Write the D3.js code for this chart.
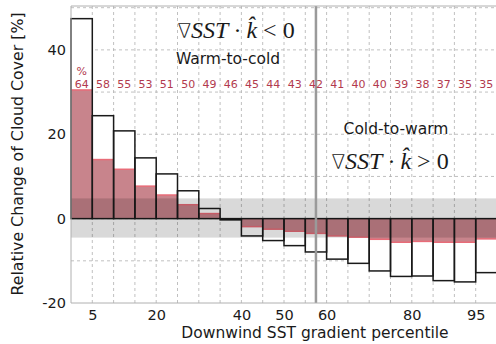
<!DOCTYPE html>
<html>
<head>
<meta charset="utf-8">
<script src="https://cdn.jsdelivr.net/npm/d3@7"></script>
<style>
  body { margin: 0; background: #fff; }
  svg { display: block; font-family: "DejaVu Sans", sans-serif; }
</style>
</head>
<body>
<div id="chart"></div>
<script>
// percentile bins (lower edge, width 5)
const binStart = [0, 5, 10, 15, 20, 25, 30, 35, 40, 45, 50, 55, 60, 65, 70, 75, 80, 85, 90, 95];
const totalChange = [47.4, 24.4, 20.8, 14.4, 10.6, 6.6, 2.4, -0.3, -4.1, -5.2, -6.4, -7.9, -9.6, -10.6, -12.4, -13.7, -13.6, -14.7, -15.0, -12.8];
const partChange = [30.5, 14.0, 11.7, 7.7, 5.6, 3.3, 1.2, -0.1, -1.9, -2.5, -3.0, -3.5, -4.1, -4.4, -4.9, -5.6, -5.4, -5.6, -5.6, -4.8];
const fracLabels = [64, 58, 55, 53, 51, 50, 49, 46, 45, 44, 43, 42, 41, 40, 40, 39, 38, 37, 35, 35];
const xTicks = [5, 20, 40, 50, 60, 80, 95];
const yTicks = [-20, 0, 20, 40];
const yGrid = [-10, 0, 10, 20, 30, 40, 50];
const xGrid = [5, 10, 15, 20, 25, 30, 35, 40, 45, 50, 55, 60, 65, 70, 75, 80, 85, 90, 95];
const band = [-4.5, 4.8];
const splitPct = 57.5;
const binWidth = 5;

const width = 496, height = 344;
const svg = d3.select("#chart").append("svg").attr("width", width).attr("height", height);

const x = d3.scaleLinear().domain([0, 100]).range([71, 497]);
const y = d3.scaleLinear().domain([-20, 50.4]).range([303, 6]);

// grid
const grid = svg.append("g").attr("stroke", "#b0b0b0").attr("stroke-width", 0.8).attr("stroke-dasharray", "3,3");
grid.selectAll(".gx").data(xGrid).enter().append("line")
  .attr("x1", d => x(d)).attr("x2", d => x(d)).attr("y1", y(-20)).attr("y2", y(50.4));
grid.selectAll(".gy").data(yGrid).enter().append("line")
  .attr("x1", x(0)).attr("x2", width).attr("y1", d => y(d)).attr("y2", d => y(d));

const bars = binStart.map((s, i) => ({ s, total: totalChange[i], part: partChange[i], n: fracLabels[i] }));

// white backing of total bars
svg.append("g").selectAll("rect").data(bars).enter().append("rect")
  .attr("x", d => x(d.s)).attr("width", d => x(d.s + binWidth) - x(d.s))
  .attr("y", d => y(Math.max(0, d.total))).attr("height", d => Math.abs(y(d.total) - y(0)))
  .attr("fill", "#fff");

// red partial bars
svg.append("g").selectAll("rect").data(bars).enter().append("rect")
  .attr("x", d => x(d.s)).attr("width", d => x(d.s + binWidth) - x(d.s))
  .attr("y", d => y(Math.max(0, d.part))).attr("height", d => Math.abs(y(d.part) - y(0)))
  .attr("fill", "#c8848c");
svg.append("g").selectAll("line").data(bars).enter().append("line")
  .attr("x1", d => x(d.s)).attr("x2", d => x(d.s + binWidth))
  .attr("y1", d => y(d.part)).attr("y2", d => y(d.part))
  .attr("stroke", "#e86c78").attr("stroke-width", 1.5);

// black outlines of total bars
svg.append("g").selectAll("rect").data(bars).enter().append("rect")
  .attr("x", d => x(d.s)).attr("width", d => x(d.s + binWidth) - x(d.s))
  .attr("y", d => y(Math.max(0, d.total))).attr("height", d => Math.abs(y(d.total) - y(0)))
  .attr("fill", "none").attr("stroke", "#1a1a1a").attr("stroke-width", 1.5);

// grey uncertainty band
svg.append("rect")
  .attr("x", x(0)).attr("width", width - x(0))
  .attr("y", y(band[1])).attr("height", y(band[0]) - y(band[1]))
  .attr("fill", "rgba(0,0,0,0.15)");

// split line
svg.append("line")
  .attr("x1", x(splitPct)).attr("x2", x(splitPct)).attr("y1", y(50.4)).attr("y2", y(-20))
  .attr("stroke", "#9a9a9a").attr("stroke-width", 2.5);

// spines
const sp = svg.append("g").attr("stroke", "#b0b0b0").attr("stroke-width", 1).attr("fill", "none");
sp.append("line").attr("x1", x(0)).attr("x2", x(0)).attr("y1", y(50.4)).attr("y2", y(-20));
sp.append("line").attr("x1", x(0)).attr("x2", width).attr("y1", y(50.4)).attr("y2", y(50.4));
sp.append("line").attr("x1", x(0)).attr("x2", width).attr("y1", y(-20)).attr("y2", y(-20));

// axes (labels only)
const xAxis = d3.axisBottom(x).tickValues(xTicks).tickSize(0).tickPadding(7);
const gx = svg.append("g").attr("transform", "translate(0," + y(-20) + ")").call(xAxis);
gx.select(".domain").remove();
gx.selectAll("text").style("font-size", "14.5px").attr("fill", "#1a1a1a").attr("font-family", "DejaVu Sans");

const yAxis = d3.axisLeft(y).tickValues(yTicks).tickSize(0).tickPadding(5);
const gy = svg.append("g").attr("transform", "translate(" + x(0) + ",0)").call(yAxis);
gy.select(".domain").remove();
gy.selectAll("text").style("font-size", "14.5px").attr("fill", "#1a1a1a").attr("font-family", "DejaVu Sans")
  .text(d => d < 0 ? "-" + Math.abs(d) : d);

// fraction labels
const lab = svg.append("g").attr("fill", "#b23a4e").style("font-size", "11px").attr("text-anchor", "middle");
lab.selectAll("text").data(bars).enter().append("text")
  .attr("x", d => x(d.s + binWidth / 2)).attr("y", 88).text(d => d.n);
lab.append("text").attr("x", x(binWidth / 2)).attr("y", 75).text("%");

// axis titles
svg.append("text").attr("x", 315).attr("y", 338).attr("text-anchor", "middle")
  .style("font-size", "15.5px").attr("fill", "#1a1a1a").text("Downwind SST gradient percentile");
svg.append("text").attr("transform", "translate(23,154) rotate(-90)").attr("text-anchor", "middle")
  .style("font-size", "15.8px").attr("fill", "#1a1a1a").text("Relative Change of Cloud Cover [%]");

// regime annotations
function mathLabel(cx, by, sign) {
  const t = svg.append("text").attr("x", cx).attr("y", by).attr("text-anchor", "middle")
    .attr("font-family", "Liberation Serif, serif").style("font-size", "24px").attr("fill", "#1a1a1a");
  t.append("tspan").attr("font-family", "DejaVu Sans").attr("font-weight", 200).style("font-size", "20px").text("\u2207");
  t.append("tspan").attr("font-style", "italic").text("SST");
  t.append("tspan").attr("dx", 5).text("\u00b7");
  t.append("tspan").attr("dx", 5).attr("font-style", "italic").text("k\u0302");
  t.append("tspan").attr("dx", 6).text(sign);
  t.append("tspan").attr("dx", 6).text("0");
}
mathLabel(236, 38, "<");
svg.append("text").attr("x", 228).attr("y", 64).attr("text-anchor", "middle")
  .style("font-size", "15.5px").attr("fill", "#1a1a1a").text("Warm-to-cold");
svg.append("text").attr("x", 396).attr("y", 134).attr("text-anchor", "middle")
  .style("font-size", "15.5px").attr("fill", "#1a1a1a").text("Cold-to-warm");
mathLabel(390, 169, ">");
</script>
</body>
</html>
